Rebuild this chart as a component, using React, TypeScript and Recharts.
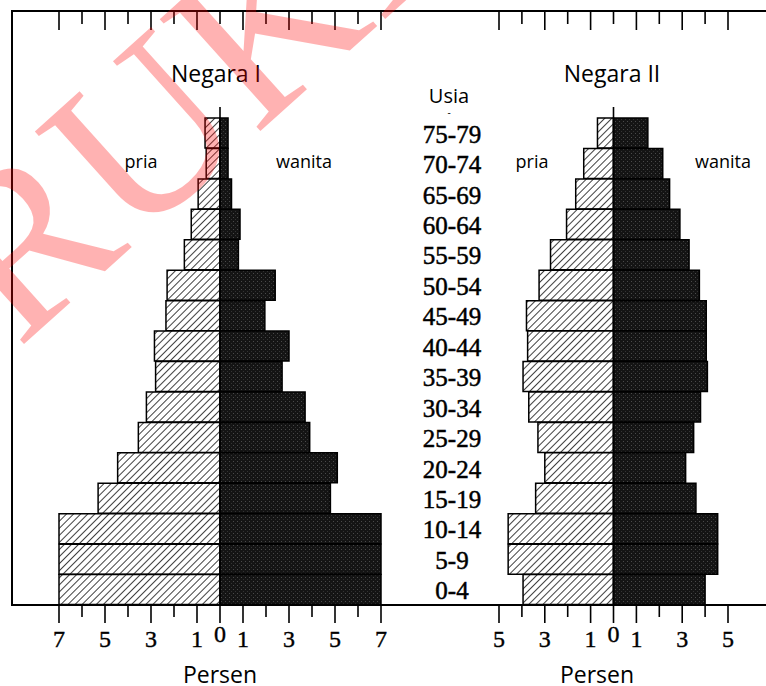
import { BarChart, Bar, XAxis, YAxis, ReferenceLine } from "recharts";

const ageGroups = [
  "75-79", "70-74", "65-69", "60-64", "55-59", "50-54", "45-49", "40-44",
  "35-39", "30-34", "25-29", "20-24", "15-19", "10-14", "5-9", "0-4",
];

// persen penduduk, pria / wanita
const negara1Pria = [0.65, 0.6, 0.95, 1.25, 1.55, 2.3, 2.35, 2.85, 2.8, 3.2, 3.55, 4.45, 5.3, 7, 7, 7];
const negara1Wanita = [0.35, 0.35, 0.5, 0.87, 0.8, 2.4, 1.95, 3.0, 2.7, 3.7, 3.9, 5.1, 4.8, 7, 7, 7];
const negara2Pria = [0.7, 1.3, 1.65, 2.05, 2.75, 3.25, 3.8, 3.75, 3.95, 3.7, 3.3, 3.0, 3.4, 4.6, 4.6, 3.95];
const negara2Wanita = [1.5, 2.15, 2.45, 2.9, 3.3, 3.75, 4.05, 4.05, 4.1, 3.8, 3.5, 3.15, 3.6, 4.55, 4.55, 4.0];

const ticks1 = [-7, -6, -5, -4, -3, -2, -1, 0, 1, 2, 3, 4, 5, 6, 7];
const ticks2 = [-5, -4, -3, -2, -1, 0, 1, 2, 3, 4, 5];

const data1 = ageGroups.map((age, i) => ({ age, pria: -negara1Pria[i], wanita: negara1Wanita[i] }));
const data2 = ageGroups.map((age, i) => ({ age, pria: -negara2Pria[i], wanita: negara2Wanita[i] }));

const serif = "'Liberation Serif', 'Times New Roman', serif";
const sans = "'Open Sans', 'Noto Sans', sans-serif";

function BottomTick(props: any) {
  const { x, y, payload } = props;
  const v = payload.value;
  const labeled = v === 0 || Math.abs(v) % 2 === 1;
  return (
    <g>
      <line x1={x} y1={y} x2={x} y2={y + (labeled ? 18 : 12)} stroke="#000" strokeWidth={1.6} />
      {labeled && (
        <text x={x} y={y + (v === 0 ? 37 : 42)} textAnchor="middle" fontFamily={serif} fontSize={24}
          fill="#000" stroke="#000" strokeWidth={0.4}>
          {Math.abs(v)}
        </text>
      )}
    </g>
  );
}

// tick marks hanging from the top frame line
function TopTickMark(props: any) {
  const { x1, y1, y2, long } = props;
  const top = Math.min(y1, y2);
  return <line x1={x1} x2={x1} y1={top} y2={top + (long ? 19 : 13)} stroke="#000" strokeWidth={1.6} />;
}

function AgeTick(props: any) {
  const { x, y, payload } = props;
  return (
    <text x={x - 47} y={y} dy={1} textAnchor="middle" dominantBaseline="central" fontFamily={serif}
      fontSize={25} fill="#000" stroke="#000" strokeWidth={0.5}>
      {payload.value}
    </text>
  );
}

function CenterLine(props: any) {
  const { x1, y1, y2 } = props;
  return (
    <line x1={x1} x2={x1} y1={Math.min(y1, y2) + 96} y2={Math.max(y1, y2)} stroke="#000" strokeWidth={1.6} />
  );
}

function Patterns({ id }: { id: string }) {
  return (
    <defs>
      <pattern id={`hatch-${id}`} width="5" height="5" patternUnits="userSpaceOnUse" patternTransform="rotate(45)">
        <rect width="5" height="5" fill="#fff" />
        <line x1="0" y1="0" x2="0" y2="5" stroke="#000" strokeWidth="1.5" />
      </pattern>
      <pattern id={`dark-${id}`} width="4" height="4" patternUnits="userSpaceOnUse">
        <rect width="4" height="4" fill="#141414" />
        <rect x="1" y="1" width="1" height="1" fill="#4a4a4a" />
        <rect x="3" y="3" width="1" height="1" fill="#333" />
      </pattern>
    </defs>
  );
}

function Pyramid({ id, data, ticks, max, width, margin, showAges }: any) {
  return (
    <BarChart width={width} height={686} data={data} layout="vertical" stackOffset="sign"
      barCategoryGap={0} margin={margin}>
      <Patterns id={id} />
      <XAxis type="number" domain={[-max, max]} ticks={ticks} interval={0} height={81}
        tickSize={0} tickMargin={0} axisLine={false} tickLine={false} tick={BottomTick} />
      <YAxis type="category" dataKey="age" hide={!showAges} width={109} padding={{ top: 107, bottom: 0 }}
        axisLine={false} tickLine={false} tickSize={0} tickMargin={0} interval={0} tick={AgeTick} />
      <Bar dataKey="pria" stackId="a" fill={`url(#hatch-${id})`} stroke="#000" strokeWidth={1.5}
        isAnimationActive={false} />
      <Bar dataKey="wanita" stackId="a" fill={`url(#dark-${id})`} stroke="#000" strokeWidth={1.5}
        isAnimationActive={false} />
      <ReferenceLine x={0} shape={CenterLine} />
      {ticks.map((v: number) => (
        <ReferenceLine key={`top${v}`} x={v}
          shape={(p: any) => <TopTickMark {...p} long={Math.abs(v) % 2 === 1} />} />
      ))}
    </BarChart>
  );
}

export default function App() {
  return (
    <div style={{ position: "absolute", left: 0, top: 0, width: 766, height: 686, overflow: "hidden", background: "#fff" }}>
      <div style={{ position: "absolute", left: 11, top: 10, width: 800, height: 592,
        borderLeft: "2px solid #000", borderTop: "2px solid #000", borderBottom: "2px solid #000" }} />
      <div style={{ position: "absolute", left: 0, top: 0 }}>
        <Pyramid id="n1" data={data1} ticks={ticks1} max={7} width={400}
          margin={{ top: 11, right: 19, bottom: 0, left: 59 }} showAges={false} />
      </div>
      <div style={{ position: "absolute", left: 390, top: 0 }}>
        <Pyramid id="n2" data={data2} ticks={ticks2} max={5} width={376}
          margin={{ top: 11, right: 38, bottom: 0, left: 0 }} showAges />
      </div>
      <svg width={766} height={686} style={{ position: "absolute", left: 0, top: 0, pointerEvents: "none" }}>
        <g fontFamily={sans} fill="#000" textAnchor="middle">
          <text x={216} y={82} fontSize={23}>Negara I</text>
          <text x={612} y={82} fontSize={23}>Negara II</text>
          <text x={449} y={103} fontSize={20}>Usia</text>
          <text x={449} y={116} fontSize={10}>-</text>
          <text x={141} y={168} fontSize={18}>pria</text>
          <text x={304} y={168} fontSize={18}>wanita</text>
          <text x={532} y={168} fontSize={18}>pria</text>
          <text x={723} y={168} fontSize={18}>wanita</text>
          <text x={220} y={683} fontSize={23}>Persen</text>
          <text x={597} y={683} fontSize={23}>Persen</text>
        </g>
        <text x={-77} y={435} transform="rotate(-42 -77 435)" fontFamily={serif} fontSize={230}
          fill="#ff0000" fillOpacity={0.3}>
          PRUKI
        </text>
      </svg>
    </div>
  );
}
